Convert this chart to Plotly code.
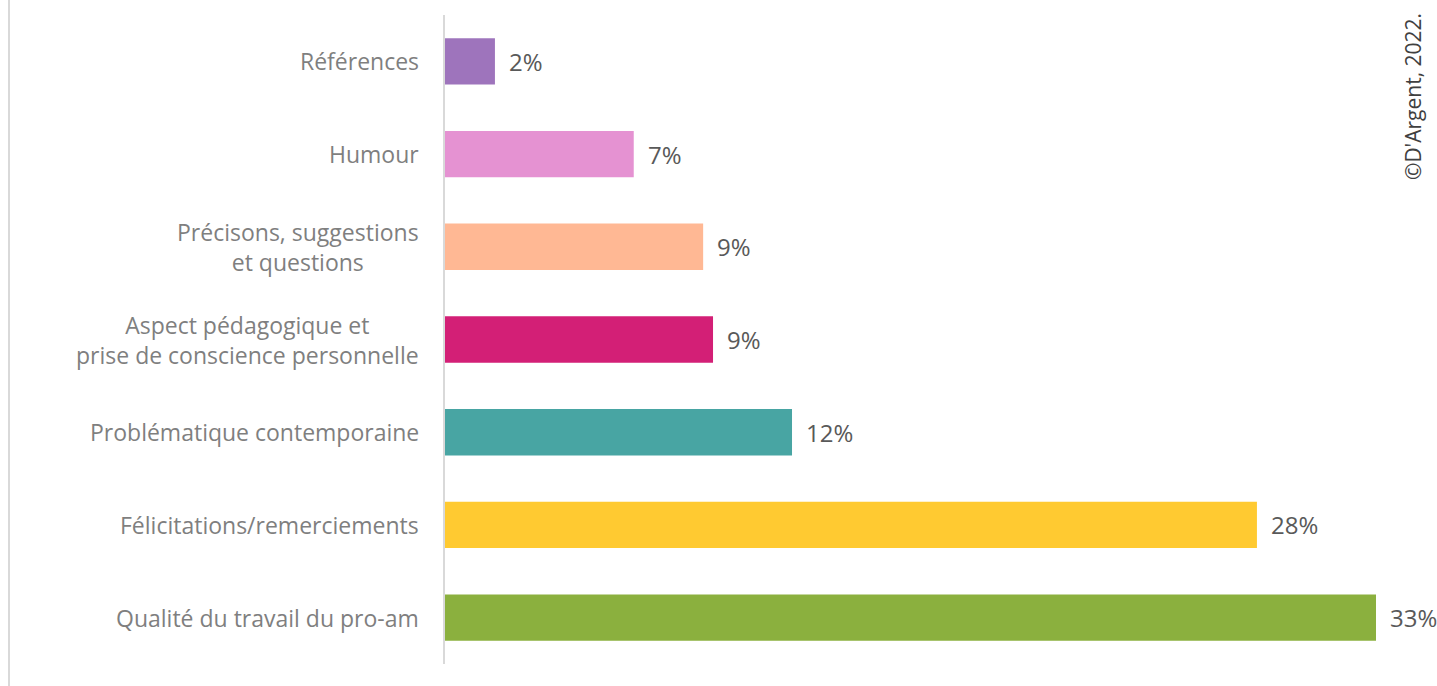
import plotly.graph_objects as go

# catégories, de haut en bas
categories = [
    "Références",
    "Humour",
    "Précisons, suggestions<br>et questions",
    "Aspect pédagogique et<br>prise de conscience personnelle",
    "Problématique contemporaine",
    "Félicitations/remerciements",
    "Qualité du travail du pro-am",
]
values = [1.77, 6.69, 9.15, 9.5, 12.3, 28.78, 33.0]
value_labels = ["2%", "7%", "9%", "9%", "12%", "28%", "33%"]
colors = ["#9E74BC", "#E592D2", "#FFB894", "#D31F76", "#48A5A3", "#FFCA31", "#8BB03E"]

FONT = "Open Sans"

fig = go.Figure()
fig.add_trace(go.Bar(
    x=values,
    y=categories,
    orientation="h",
    marker=dict(color=colors, line=dict(width=0)),
    hoverinfo="skip",
))

# étiquettes des valeurs
for cat, val, lab in zip(categories, values, value_labels):
    fig.add_annotation(x=val, y=cat, text=lab, showarrow=False,
                       xanchor="left", xshift=12,
                       font=dict(family=FONT, size=24, color="#595959"))

# étiquettes des catégories (lignes centrées)
for cat in categories:
    fig.add_annotation(x=0, y=cat, text=cat, showarrow=False,
                       xanchor="right", xshift=-24, align="center",
                       font=dict(family=FONT, size=23, color="#7F7F7F"))

# copyright vertical
fig.add_annotation(xref="paper", yref="paper", x=1.0397, y=0.875, yanchor="middle",
                   text="©D'Argent, 2022.", textangle=-90, showarrow=False,
                   xanchor="center",
                   font=dict(family=FONT, size=21, color="#404040"))

# bordure gauche du graphique
fig.add_shape(type="line", xref="paper", yref="paper",
              x0=-0.4683, x1=-0.4683, y0=-0.05, y1=1.05,
              line=dict(color="#D9D9D9", width=2))

fig.update_layout(
    width=1437, height=686,
    margin=dict(l=445, r=61, t=15, b=22),
    plot_bgcolor="white", paper_bgcolor="white",
    bargap=0.5,
    showlegend=False,
    font=dict(family=FONT),
)
fig.update_xaxes(range=[0, 33], visible=False, showgrid=False)
fig.update_yaxes(autorange="reversed", showticklabels=False, showgrid=False,
                 showline=True, linecolor="#D9D9D9", linewidth=2, ticks="")

# pas de marge autour du graphique dans la page
fig.write_html("out.html", config={"displayModeBar": False},
               post_script="document.body.style.margin='0';")
